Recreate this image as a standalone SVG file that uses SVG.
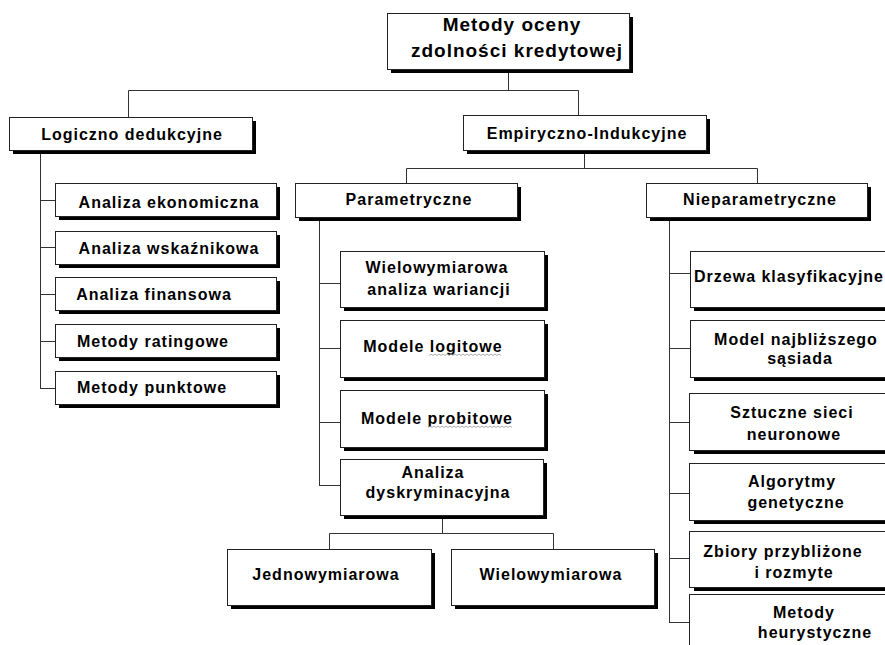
<svg xmlns="http://www.w3.org/2000/svg" width="885" height="645" viewBox="0 0 885 645">
<style>
.sh{fill:#000}
.bx{fill:#fff;stroke:#222;stroke-width:1}
.t{font-family:"Liberation Sans",Arial,sans-serif;font-weight:bold;font-size:16px;letter-spacing:1px;fill:#000;text-anchor:middle}
.tr{font-size:19px}
.cn{fill:none;stroke:#333;stroke-width:1}
.sq{fill:none;stroke:#999;stroke-width:0.8}
</style>
<rect width="885" height="645" fill="#fff"/>
<g id="connectors">
<path class="cn" d="M508.5 69V90.5M128.5 90.5H578.5M128.5 90.5V117M578.5 90.5V115"/>
<path class="cn" d="M584.5 150V168.5M406.5 168.5H757.5M406.5 168.5V183M757.5 168.5V183"/>
<path class="cn" d="M40.5 150V388.5M40 200.5H55M40 247.5H55M40 294.5H55M40 341.5H55M40 388.5H55"/>
<path class="cn" d="M319.5 217V485.5M319 283.5H340M319 348.5H340M319 422.5H340M319 485.5H340"/>
<path class="cn" d="M442.5 515V533.5M329.5 533.5H553.5M329.5 533.5V549M553.5 533.5V549"/>
<path class="cn" d="M669.5 217V622.5M669 273.5H690M669 348.5H690M669 422.5H690M669 493.5H690M669 558.5H690M669 622.5H690"/>
</g>
<g id="root"><rect class="sh" x="391" y="17" width="242" height="56"/><rect class="bx" x="387.5" y="13.5" width="242" height="56"/><text class="t tr" x="512" y="31">Metody oceny</text><text class="t tr" x="517" y="57">zdolności kredytowej</text></g>
<g id="logiczno"><rect class="sh" x="13" y="121" width="243" height="33"/><rect class="bx" x="9.5" y="117.5" width="243" height="33"/><text class="t" x="132" y="140">Logiczno dedukcyjne</text></g>
<g id="empiryczno"><rect class="sh" x="467" y="119" width="243" height="35"/><rect class="bx" x="463.5" y="115.5" width="243" height="35"/><text class="t" x="587" y="139">Empiryczno-Indukcyjne</text></g>
<g id="parametryczne"><rect class="sh" x="299" y="187" width="222" height="34"/><rect class="bx" x="295.5" y="183.5" width="222" height="34"/><text class="t" x="409" y="205">Parametryczne</text></g>
<g id="nieparametryczne"><rect class="sh" x="650" y="187" width="221" height="34"/><rect class="bx" x="646.5" y="183.5" width="221" height="34"/><text class="t" x="760" y="205">Nieparametryczne</text></g>
<g id="ekonomiczna"><rect class="sh" x="59" y="187" width="221" height="33"/><rect class="bx" x="55.5" y="183.5" width="221" height="33"/><text class="t" x="169" y="208">Analiza ekonomiczna</text></g>
<g id="wskaznikowa"><rect class="sh" x="59" y="235" width="221" height="33"/><rect class="bx" x="55.5" y="231.5" width="221" height="33"/><text class="t" x="169" y="254">Analiza wskaźnikowa</text></g>
<g id="finansowa"><rect class="sh" x="59" y="281" width="221" height="33"/><rect class="bx" x="55.5" y="277.5" width="221" height="33"/><text class="t" x="154" y="300">Analiza finansowa</text></g>
<g id="ratingowe"><rect class="sh" x="59" y="328" width="221" height="33"/><rect class="bx" x="55.5" y="324.5" width="221" height="33"/><text class="t" x="153" y="347">Metody ratingowe</text></g>
<g id="punktowe"><rect class="sh" x="59" y="375" width="221" height="33"/><rect class="bx" x="55.5" y="371.5" width="221" height="33"/><text class="t" x="152" y="393">Metody punktowe</text></g>
<g id="wariancji"><rect class="sh" x="344" y="255" width="204" height="56"/><rect class="bx" x="340.5" y="251.5" width="204" height="56"/><text class="t" x="437" y="273">Wielowymiarowa</text><text class="t" x="439" y="295">analiza wariancji</text></g>
<g id="logitowe"><rect class="sh" x="344" y="324" width="204" height="57"/><rect class="bx" x="340.5" y="320.5" width="204" height="57"/><text class="t" x="433" y="352">Modele logitowe</text><path class="sq" d="M429 355.5l2 -1.5l2 1.5l2 -1.5l2 1.5l2 -1.5l2 1.5l2 -1.5l2 1.5l2 -1.5l2 1.5l2 -1.5l2 1.5l2 -1.5l2 1.5l2 -1.5l2 1.5l2 -1.5l2 1.5l2 -1.5l2 1.5l2 -1.5l2 1.5l2 -1.5l2 1.5l2 -1.5l2 1.5l2 -1.5l2 1.5l2 -1.5l2 1.5l2 -1.5l2 1.5l2 -1.5l2 1.5l2 -1.5l2 1.5"/></g>
<g id="probitowe"><rect class="sh" x="344" y="394" width="204" height="57"/><rect class="bx" x="340.5" y="390.5" width="204" height="57"/><text class="t" x="437" y="424">Modele probitowe</text><path class="sq" d="M428 427.5l2 -1.5l2 1.5l2 -1.5l2 1.5l2 -1.5l2 1.5l2 -1.5l2 1.5l2 -1.5l2 1.5l2 -1.5l2 1.5l2 -1.5l2 1.5l2 -1.5l2 1.5l2 -1.5l2 1.5l2 -1.5l2 1.5l2 -1.5l2 1.5l2 -1.5l2 1.5l2 -1.5l2 1.5l2 -1.5l2 1.5l2 -1.5l2 1.5l2 -1.5l2 1.5l2 -1.5l2 1.5l2 -1.5l2 1.5l2 -1.5l2 1.5l2 -1.5l2 1.5l2 -1.5l2 1.5"/></g>
<g id="dyskryminacyjna"><rect class="sh" x="344" y="463" width="203" height="56"/><rect class="bx" x="340.5" y="459.5" width="203" height="56"/><text class="t" x="433" y="478">Analiza</text><text class="t" x="438" y="498">dyskryminacyjna</text></g>
<g id="jednowymiarowa"><rect class="sh" x="231" y="553" width="204" height="56"/><rect class="bx" x="227.5" y="549.5" width="204" height="56"/><text class="t" x="326" y="580">Jednowymiarowa</text></g>
<g id="wielowymiarowa"><rect class="sh" x="455" y="553" width="203" height="56"/><rect class="bx" x="451.5" y="549.5" width="203" height="56"/><text class="t" x="551" y="580">Wielowymiarowa</text></g>
<g id="drzewa"><rect class="sh" x="694" y="255" width="220" height="56"/><rect class="bx" x="690.5" y="251.5" width="220" height="56"/><text class="t" x="694" y="282" style="text-anchor:start">Drzewa klasyfikacyjne</text></g>
<g id="sasiada"><rect class="sh" x="694" y="324" width="220" height="57"/><rect class="bx" x="690.5" y="320.5" width="220" height="57"/><text class="t" x="796" y="345">Model najbliższego</text><text class="t" x="800" y="364">sąsiada</text></g>
<g id="sieci"><rect class="sh" x="694" y="397" width="220" height="57"/><rect class="bx" x="689.5" y="393.5" width="220" height="57"/><text class="t" x="792" y="418">Sztuczne sieci</text><text class="t" x="794" y="440">neuronowe</text></g>
<g id="algorytmy"><rect class="sh" x="694" y="467" width="220" height="57"/><rect class="bx" x="689.5" y="463.5" width="220" height="57"/><text class="t" x="792" y="487">Algorytmy</text><text class="t" x="796" y="508">genetyczne</text></g>
<g id="zbiory"><rect class="sh" x="694" y="535" width="220" height="56"/><rect class="bx" x="689.5" y="531.5" width="220" height="56"/><text class="t" x="783" y="557">Zbiory przybliżone</text><text class="t" x="794" y="578">i rozmyte</text></g>
<g id="heurystyczne"><rect class="sh" x="694" y="598" width="220" height="60"/><rect class="bx" x="689.5" y="594.5" width="220" height="60"/><text class="t" x="804" y="618">Metody</text><text class="t" x="815" y="638">heurystyczne</text></g>
</svg>
